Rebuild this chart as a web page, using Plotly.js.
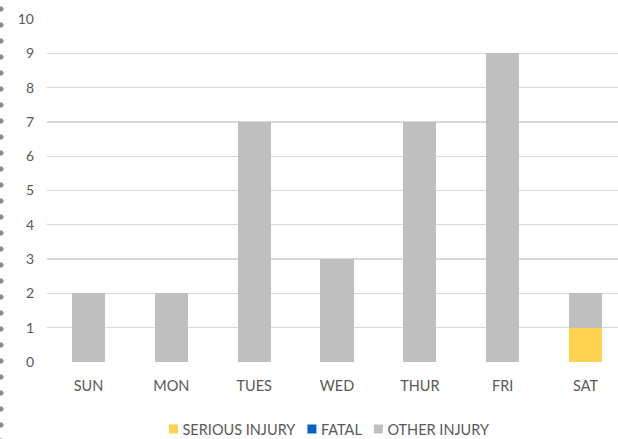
<!DOCTYPE html>
<html>
<head>
<meta charset="utf-8">
<script src="https://cdn.plot.ly/plotly-3.0.1.min.js"></script>
<style>
html,body{margin:0;padding:0;overflow:hidden;background:#fff;width:618px;height:439px;}
#wrap{position:relative;width:618px;height:439px;overflow:hidden;}
#chart{position:absolute;left:0;top:0;}
#dots{position:absolute;left:0;top:0;width:5px;height:439px;
 background-image:radial-gradient(circle at 1px 50%, #8c8c8c 2.3px, rgba(140,140,140,0) 2.9px);
 background-size:5px 16px;background-position:0 1px;background-repeat:repeat-y;z-index:5;}
</style>
</head>
<body>
<div id="wrap"><div id="chart"></div><div id="dots"></div></div>
<script>
var days = ["SUN","MON","TUES","WED","THUR","FRI","SAT"];
var seriousInjury = [0,0,0,0,0,0,1];
var fatal = [0,0,0,0,0,0,0];
var otherInjury = [2,2,7,3,7,9,1];
var yTicks = [0,1,2,3,4,5,6,7,8,9,10];

var fontFam = 'Lato, "Open Sans", "Liberation Sans", sans-serif';
var traces = [
  {type:'bar', name:'SERIOUS INJURY', x:days, y:seriousInjury, marker:{color:'#FFD24F'}, hoverinfo:'skip'},
  {type:'bar', name:'FATAL', x:days, y:fatal, marker:{color:'#0563C1'}, hoverinfo:'skip'},
  {type:'bar', name:'OTHER INJURY', x:days, y:otherInjury, marker:{color:'#BFBFBF'}, hoverinfo:'skip'}
];
var layout = {
  width:628, height:439,
  margin:{l:47, r:1, t:19, b:77},
  barmode:'stack', bargap:0.6,
  paper_bgcolor:'#fff', plot_bgcolor:'#fff',
  font:{family:fontFam, size:14, color:'#595959'},
  showlegend:true,
  legend:{orientation:'h', x:0.5, xanchor:'center', xref:'paper',
          y:10/439, yanchor:'middle', yref:'container',
          font:{family:fontFam, size:14.5, color:'#595959'}, traceorder:'normal', itemwidth:30},
  xaxis:{type:'category', showgrid:false, zeroline:false, showline:false, ticks:'',
         tickfont:{family:fontFam, size:14.5, color:'#595959'}, ticklabelstandoff:13},
  yaxis:{range:[0,10], tickvals:yTicks, showgrid:true, gridcolor:'#D9D9D9', gridwidth:1.3,
         zeroline:false, showline:false, ticks:'', ticklabelstandoff:12,
         tickfont:{family:fontFam, size:14, color:'#595959'}}
};
Plotly.newPlot('chart', traces, layout, {staticPlot:true, displayModeBar:false}).then(function(gd){
  // tighten legend: smaller squares, text closer to square, Excel-like spacing
  var items = gd.querySelectorAll('.legend .traces');
  if(!items.length) return;
  var half = 4.5, symC = 20, textX = symC + half + 4.5, gapAfter = 12, centerPage = 329;
  var info = [];
  items.forEach(function(it){
    it.querySelectorAll('.legendpoints path').forEach(function(p){
      p.setAttribute('d','M'+half+','+half+'H-'+half+'V-'+half+'H'+half+'Z');
    });
    var t = it.querySelector('.legendtext');
    if(t) t.setAttribute('x', textX);
    var m = /translate\(\s*([-\d.]+)[ ,]+([-\d.]+)/.exec(it.getAttribute('transform')||'');
    info.push({el:it, x: m?parseFloat(m[1]):0, y: m?parseFloat(m[2]):0, tw: t? t.getComputedTextLength():0});
  });
  var p0 = items[0].querySelector('.legendpoints path');
  var r0 = p0.getBoundingClientRect();
  var originPage = r0.left - (info[0].x + symC - half);
  var total = 0;
  info.forEach(function(d,i){ total += (textX - (symC-half)) + d.tw + (i<info.length-1?gapAfter:0); });
  var cur = centerPage - total/2;
  info.forEach(function(d){
    var localX = cur - originPage - (symC - half);
    d.el.setAttribute('transform','translate('+localX+','+d.y+')');
    cur += (textX - (symC-half)) + d.tw + gapAfter;
  });
});
</script>
</body>
</html>
